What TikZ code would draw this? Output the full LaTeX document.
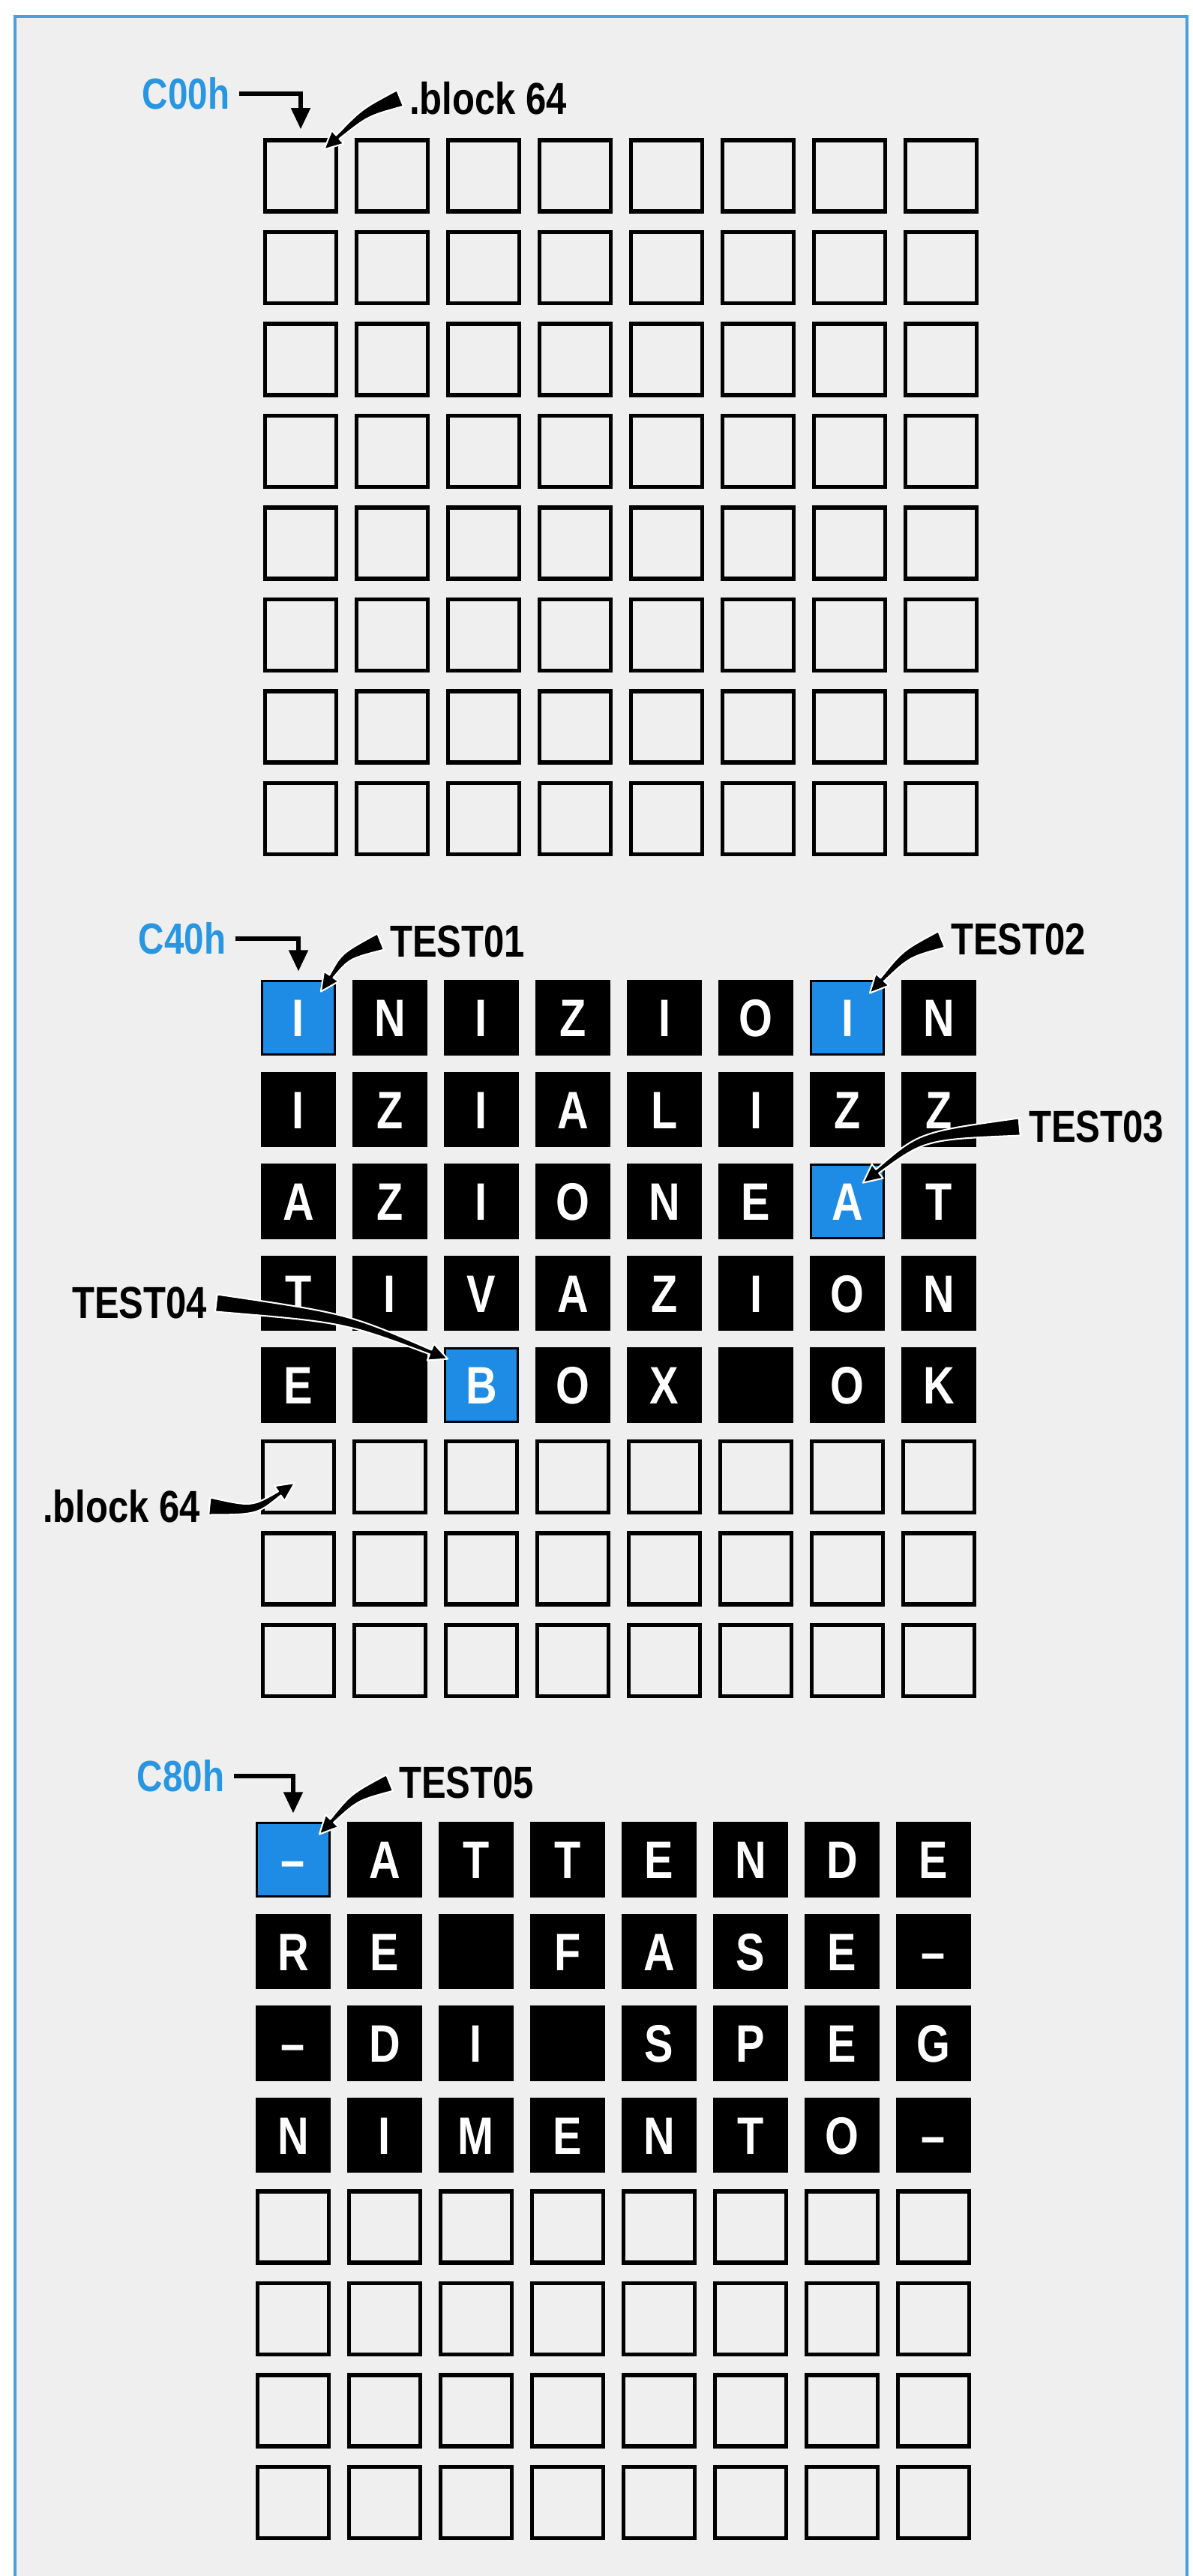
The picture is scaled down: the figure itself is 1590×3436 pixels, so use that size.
\documentclass[tikz,border=0pt]{standalone}
\usepackage{fontspec}
\newfontfamily\condfont{Liberation Sans}[FakeStretch=0.82, Ligatures=TeX]
\usetikzlibrary{calc,arrows.meta}

\definecolor{bggray}{RGB}{239,239,239}
\definecolor{frameblue}{RGB}{70,160,225}
\definecolor{cellblue}{RGB}{30,140,228}
\definecolor{lblblue}{RGB}{40,150,225}

\tikzset{
  emptycell/.style={draw=black, line width=1.5pt, fill=bggray, minimum size=0.95cm, inner sep=0pt},
  darkcell/.style={emptycell, fill=black, text=white, text height=14.4pt, text depth=0pt,
    font=\condfont\bfseries\fontsize{20}{21}\selectfont},
  bluecell/.style={darkcell, fill=cellblue, line width=0.8pt, minimum size=0.97cm},
  addr/.style={font=\condfont\bfseries\fontsize{16.5}{18}\selectfont, text=lblblue},
  tag/.style={font=\condfont\bfseries\fontsize{17}{19}\selectfont},
  elbow/.style={line width=1.6pt, -{Triangle[length=8pt,width=7pt]}},
}

% tapered pointer: start, control, tip
\newcommand{\swoosh}[3]{%
  \coordinate (sw-b) at ($(#3)!7pt!(#2)$);
  \fill[black, draw=white, line width=0.6pt, line join=round]
    ($(#1)!3.3pt!90:(#2)$) .. controls ($(#2)!1.8pt!90:(#3)$) .. ($(sw-b)!0.9pt!90:(#3)$)
    -- ($(sw-b)!3.4pt!90:(#3)$) -- (#3) -- ($(sw-b)!3.4pt!-90:(#3)$)
    -- ($(sw-b)!0.9pt!-90:(#3)$) .. controls ($(#2)!1.8pt!-90:(#3)$) .. ($(#1)!3.3pt!-90:(#2)$)
    -- cycle;
}

\begin{document}
\begin{tikzpicture}[x=0.01cm, y=-0.01cm]
\useasboundingbox (0,0) rectangle (1590,3436);
\fill[white] (0,0) rectangle (1590,3436);
\fill[bggray] (20,22) rectangle (1583,3460);
\draw[frameblue, line width=1.4pt] (20,3460) -- (20,22) -- (1583,22) -- (1583,3460);

% empty cells
\foreach \blk/\first/\xo in {0/0/401,1/5/398,2/4/391}
  \foreach \rw in {\first,...,7}
    \foreach \cl in {0,...,7}
      \node[emptycell] (m\blk-\rw-\cl) at ({\xo+122*\cl},{234.5+1123*\blk+122.5*\rw}) {};

% message at C40h
\foreach \row [count=\rw from 0] in {{I,N,I,Z,I,O,I,N},{I,Z,I,A,L,I,Z,Z},{A,Z,I,O,N,E,A,T},{T,I,V,A,Z,I,O,N},{E,{},B,O,X,{},O,K}}
  \foreach \ch [count=\cl from 0] in \row
    \node[darkcell] (m1-\rw-\cl) at ({398+122*\cl},{1357.5+122.5*\rw}) {\ch};

% message at C80h
\foreach \row [count=\rw from 0] in {{--,A,T,T,E,N,D,E},{R,E,{},F,A,S,E,--},{--,D,I,{},S,P,E,G},{N,I,M,E,N,T,O,--}}
  \foreach \ch [count=\cl from 0] in \row
    \node[darkcell] (m2-\rw-\cl) at ({391+122*\cl},{2480.5+122.5*\rw}) {\ch};

% test points
\node[bluecell] (t1) at (m1-0-0) {I};
\node[bluecell] (t2) at (m1-0-6) {I};
\node[bluecell] (t3) at (m1-2-6) {A};
\node[bluecell] (t4) at (m1-4-2) {B};
\node[bluecell] (t5) at (m2-0-0) {--};

% labels
\node[addr] (c00) at (248,125) {C00h};
\node[addr] (c40) at (243,1252) {C40h};
\node[addr] (c80) at (241,2369) {C80h};
\node[tag] (blk1) at (651,131) {.block 64};
\node[tag] (blk2) at (162,2009) {.block 64};
\node[tag] (tst1) at (610,1256) {TEST01};
\node[tag] (tst2) at (1358,1253) {TEST02};
\node[tag] (tst3) at (1462,1503) {TEST03};
\node[tag] (tst4) at (186,1738) {TEST04};
\node[tag] (tst5) at (622,2378) {TEST05};

% start addresses
\draw[elbow] (c00.east) -| ($(m0-0-0.north)+(0,-12)$);
\draw[elbow] (c40.east) -| ($(t1.north)+(0,-12)$);
\draw[elbow] (c80.east) -| ($(t5.north)+(0,-12)$);

% pointers
\coordinate (k1) at ($(blk1.west)+(-47,19)$);
\coordinate (p1) at ($(m0-0-0.north east)+(-19,15)$);
\swoosh{blk1.west}{k1}{p1}
\coordinate (k2) at ($(tst1.west)+(-47,19)$);
\coordinate (p2) at ($(t1.north east)+(-20,15)$);
\swoosh{tst1.west}{k2}{p2}
\coordinate (k3) at ($(tst2.west)+(-47,19)$);
\coordinate (p3) at ($(t2.north east)+(-20,17)$);
\swoosh{tst2.west}{k3}{p3}
\coordinate (k4) at ($(tst3.west)+(-130,12)$);
\coordinate (p4) at ($(t3.north east)+(-29,25)$);
\swoosh{tst3.west}{k4}{p4}
\coordinate (k5) at ($(tst4.east)+(173,20)$);
\coordinate (p5) at ($(t4.north west)+(5,15)$);
\swoosh{tst4.east}{k5}{p5}
\coordinate (k6) at ($(blk2.east)+(60,6)$);
\coordinate (p6) at ($(m1-5-0)+(-5,8)$);
\swoosh{blk2.east}{k6}{p6}
\coordinate (k7) at ($(tst5.west)+(-47,19)$);
\coordinate (p7) at ($(t5.north east)+(-15,16)$);
\swoosh{tst5.west}{k7}{p7}
\end{tikzpicture}
\end{document}
